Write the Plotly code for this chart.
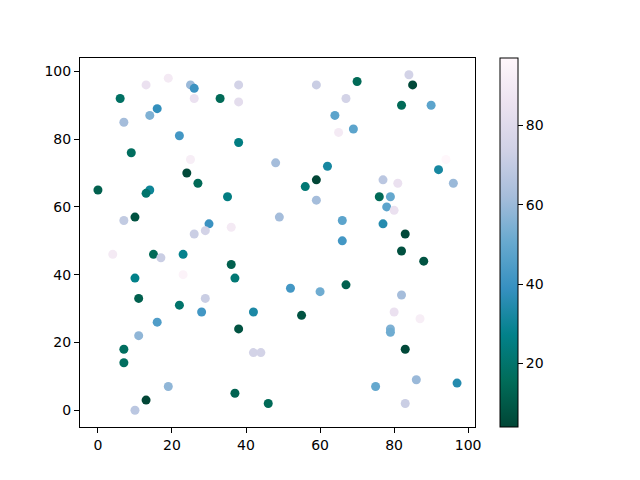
import plotly.graph_objects as go

# scatter points (x, y, colour value)
x = [13, 19, 25, 26, 38, 6, 26, 33, 38, 16, 14, 7, 22, 38, 9, 48, 25, 24, 27, 0,
     14, 13, 35, 7, 10, 30, 26, 29, 36, 49,
     59, 70, 84, 85, 67, 82, 90, 64, 69, 65, 62, 94, 92, 96, 59, 56, 77, 81, 76, 79,
     78, 80, 59, 66, 77, 66, 83,
     4, 15, 17, 23, 36, 23, 10, 37, 11, 22, 29, 28, 42, 16, 38, 11, 7, 7, 42, 44,
     19, 13, 10, 37, 46,
     82, 88, 52, 60, 67, 82, 55, 80, 87, 79, 79, 83, 86, 75, 97, 83]
y = [96, 98, 96, 95, 96, 92, 92, 92, 91, 89, 87, 85, 81, 79, 76, 73, 74, 70, 67, 65,
     65, 64, 63, 56, 57, 55, 52, 53, 54, 57,
     96, 97, 99, 96, 92, 90, 90, 87, 83, 82, 72, 74, 71, 67, 68, 66, 68, 67, 63, 63,
     60, 59, 62, 56, 55, 50, 52,
     46, 46, 45, 46, 43, 40, 39, 39, 33, 31, 33, 29, 29, 26, 24, 22, 18, 14, 17, 17,
     7, 3, 0, 5, 2,
     47, 44, 36, 35, 37, 34, 28, 29, 27, 24, 23, 18, 9, 7, 8, 2]
c = [85, 90, 60, 40, 75, 18, 85, 15, 82, 38, 55, 62, 42, 25, 17, 62, 92, 5, 15, 12,
     30, 20, 25, 70, 8, 40, 72, 75, 90, 62,
     72, 15, 75, 5, 75, 15, 48, 48, 48, 90, 32, 97, 32, 60, 4, 22, 68, 85, 15, 50,
     48, 85, 62, 48, 35, 42, 5,
     90, 15, 72, 28, 12, 95, 27, 22, 12, 20, 72, 42, 33, 45, 8, 58, 17, 17, 75, 75,
     58, 4, 68, 13, 15,
     7, 8, 42, 52, 12, 62, 8, 85, 92, 55, 52, 5, 60, 50, 35, 72]

# PuBuGn reversed
pubugn_r = [[0.0, "#014636"], [0.125, "#016c59"], [0.25, "#02818a"], [0.375, "#3690c0"],
            [0.5, "#67a9cf"], [0.625, "#a6bddb"], [0.75, "#d0d1e6"], [0.875, "#ece2f0"],
            [1.0, "#fff7fb"]]

fig = go.Figure(go.Scatter(
    x=x, y=y, mode="markers",
    marker=dict(size=9, color=c, colorscale=pubugn_r, line=dict(width=0),
                colorbar=dict(x=1.038, xanchor="left", y=0.5, len=1, ypad=0,
                              thickness=18, outlinecolor="black", outlinewidth=1,
                              ticks="outside", ticklen=5, tickcolor="black",
                              tickvals=[20, 40, 60, 80],
                              tickfont=dict(size=14, color="black"))),
))

axis_style = dict(showgrid=False, zeroline=False, showline=True, linecolor="black",
                  linewidth=1, mirror=True, ticks="outside", ticklen=5,
                  tickcolor="black", tickfont=dict(size=14, color="black"))

fig.update_xaxes(range=[-4.85, 101.85], tickvals=[0, 20, 40, 60, 80, 100], **axis_style)
fig.update_yaxes(range=[-4.95, 103.95], tickvals=[0, 20, 40, 60, 80, 100], **axis_style)

# page body adds ~8px offset, so margins shifted to compensate
fig.update_layout(width=640, height=480, template="none",
                  font=dict(family="DejaVu Sans"),
                  plot_bgcolor="white", paper_bgcolor="white",
                  margin=dict(l=72, r=173, t=50, b=61), showlegend=False)

fig.write_html("out.html")
